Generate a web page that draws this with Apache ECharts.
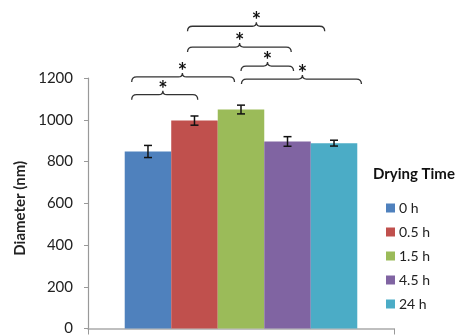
<!DOCTYPE html>
<html><head><meta charset="utf-8">
<script src="https://cdn.jsdelivr.net/npm/echarts@6/dist/echarts.min.js"></script>
<style>html,body{margin:0;padding:0;background:#fff}#c{width:464px;height:336px}</style>
</head><body><div id="c"></div>
<script>
// ---- data ----
const seriesNames = ['0 h', '0.5 h', '1.5 h', '4.5 h', '24 h'];
const diameters = [848, 996, 1049, 896, 888];
const errors = [29, 22, 21, 23, 14];
const yMin = 0, yMax = 1200, yStep = 200;
// significance braces, in bar-index units (0 = first bar centre) and data values
const braceFrom  = [-0.35, -0.35, 2.00, 2.01, 0.85, 0.85];
const braceTo    = [ 1.07,  1.86, 3.13, 4.59, 3.08, 3.80];
const braceMid   = [ 0.32,  0.74, 2.57, 3.32, 1.97, 2.33];
const braceLevel = [ 1120,  1205, 1257, 1195, 1348, 1448];
const braceMark  = ['*', '*', '*', '*', '*', '*'];

const colors = ['#4F81BD', '#C0504D', '#9BBB59', '#8064A2', '#4BACC6'];
const GAP = 0.24;
const FONT = 'Lato';

function barX(api, u) {
  const c = api.coord([0, 0]);
  const band = api.size([1, 0])[0];
  const inner = band * (1 - GAP);
  const bw = inner / seriesNames.length;
  return c[0] - inner / 2 + bw * (u + 0.5);
}

const barSeries = seriesNames.map((n, i) => ({
  name: n, type: 'bar', data: [diameters[i]],
  barGap: '0%', barCategoryGap: (GAP * 100) + '%',
  itemStyle: { color: colors[i] }
}));

const errSeries = {
  type: 'custom', name: 'err', silent: true, z: 5, clip: false,
  data: diameters.map((v, i) => [0, v, errors[i], i]),
  encode: { x: 0, y: 1 },
  renderItem(params, api) {
    const x = barX(api, api.value(3));
    const top = api.coord([0, api.value(1) + api.value(2)])[1];
    const bot = api.coord([0, api.value(1) - api.value(2)])[1];
    const hw = 4, st = { stroke: '#111', lineWidth: 1.5 };
    return { type: 'group', children: [
      { type: 'line', shape: { x1: x, y1: top, x2: x, y2: bot }, style: st },
      { type: 'line', shape: { x1: x - hw, y1: top, x2: x + hw, y2: top }, style: st },
      { type: 'line', shape: { x1: x - hw, y1: bot, x2: x + hw, y2: bot }, style: st }
    ]};
  }
};

const braceSeries = {
  type: 'custom', name: 'brace', silent: true, z: 6, clip: false,
  data: braceLevel.map((lv, i) => [0, lv, braceFrom[i], braceTo[i], braceMid[i], i]),
  encode: { x: 0, y: 1 },
  renderItem(params, api) {
    const x1 = barX(api, api.value(2)), x2 = barX(api, api.value(3)), xm = barX(api, api.value(4));
    const y = api.coord([0, api.value(1)])[1];
    const d = 5, p = 4;
    const path = `M${x1},${y + d} Q${x1},${y} ${x1 + d},${y} L${xm - p},${y} Q${xm},${y} ${xm},${y - p} Q${xm},${y} ${xm + p},${y} L${x2 - d},${y} Q${x2},${y} ${x2},${y + d}`;
    return { type: 'group', children: [
      { type: 'path', shape: { pathData: path }, style: { stroke: '#333', lineWidth: 1.3, fill: null } },
      { type: 'text', x: xm, y: y - 5, style: { text: braceMark[api.value(5)], fontSize: 22, fontWeight: 'bold', fontFamily: FONT, align: 'center', verticalAlign: 'middle', fill: '#111' } }
    ]};
  }
};

const chart = echarts.init(document.getElementById('c'), null, { renderer: 'canvas' });
chart.setOption({
  animation: false,
  backgroundColor: '#fff',
  textStyle: { fontFamily: FONT },
  title: { text: 'Drying Time', left: 373, top: 167, padding: 0,
    textStyle: { fontSize: 15, fontWeight: 'bold', color: '#111', fontFamily: FONT } },
  legend: { data: seriesNames, orient: 'vertical', left: 386, top: 201, padding: 0,
    itemWidth: 9, itemHeight: 9, itemGap: 10, icon: 'rect',
    textStyle: { fontSize: 14, color: '#222', fontFamily: FONT, padding: [0, 0, 0, -1] } },
  grid: { left: 88, right: 70, top: 78, bottom: 6.5, containLabel: false },
  xAxis: { type: 'category', data: [''], boundaryGap: true,
    axisLine: { lineStyle: { color: '#aaa', width: 1.5 } },
    axisTick: { show: true, length: 6, lineStyle: { color: '#999' } },
    axisLabel: { show: false } },
  yAxis: { type: 'value', min: yMin, max: yMax, interval: yStep,
    name: 'Diameter (nm)', nameLocation: 'middle', nameGap: 60,
    nameTextStyle: { fontSize: 15, fontWeight: 'bold', color: '#222', fontFamily: FONT, padding: [0, 10, 0, 0] },
    axisLine: { show: true, lineStyle: { color: '#999', width: 1.2 } },
    axisTick: { show: true, length: 4, lineStyle: { color: '#999' } },
    axisLabel: { fontSize: 15, color: '#222', margin: 15, fontFamily: FONT, formatter: v => String(v) },
    splitLine: { show: false } },
  series: [...barSeries, errSeries, braceSeries]
});
</script></body></html>
